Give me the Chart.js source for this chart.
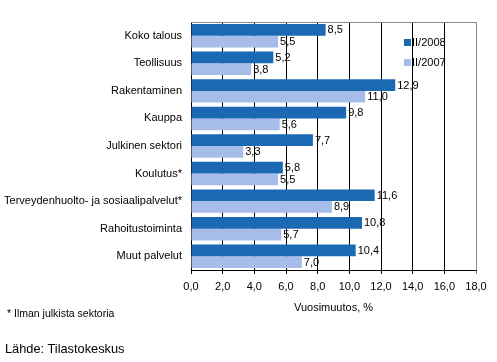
<!DOCTYPE html>
<html lang="fi">
<head>
<meta charset="utf-8">
<script src="https://cdn.jsdelivr.net/npm/chart.js@4/dist/chart.umd.min.js"></script>
<style>
  html, body { margin: 0; padding: 0; background: #fff; }
  #wrap { position: relative; width: 497px; height: 362px; font-family: "Liberation Sans", Arial, sans-serif; }
  #kaavio { position: absolute; left: 0; top: 0; }
  .huom { position: absolute; left: 7px; top: 307px; font-size: 10.5px; color: #000; }
  .lahde { position: absolute; left: 5px; top: 341px; font-size: 12.8px; color: #000; }
</style>
</head>
<body>
<div id="wrap">
  <canvas id="kaavio" width="497" height="362"></canvas>
  <div class="huom">* Ilman julkista sektoria</div>
  <div class="lahde">Lähde: Tilastokeskus</div>
</div>
<script>
// Toimialat ja vuosimuutokset (%), luettu kuvasta
const TOIMIALAT = [
  'Koko talous',
  'Teollisuus',
  'Rakentaminen',
  'Kauppa',
  'Julkinen sektori',
  'Koulutus*',
  'Terveydenhuolto- ja sosiaalipalvelut*',
  'Rahoitustoiminta',
  'Muut palvelut'
];
const ARVOT_2008 = [8.5, 5.2, 12.9, 9.8, 7.7, 5.8, 11.6, 10.8, 10.4];
const ARVOT_2007 = [5.5, 3.8, 11.0, 5.6, 3.3, 5.5, 8.9, 5.7, 7.0];
const SARJAT = ['II/2008', 'II/2007'];
const X_MIN = 0, X_MAX = 18, X_ASKEL = 2;
const AKSELIN_OTSIKKO = 'Vuosimuutos, %';

const FONTTI = '"Liberation Sans", Arial, sans-serif';
const TUMMA = '#1b69b3';
const VAALEA = '#a6bdea';

const pilkku = v => Number(v).toFixed(1).replace('.', ',');

// Arvot palkkien perään
const arvoLabelit = {
  id: 'arvoLabelit',
  afterDatasetsDraw(chart) {
    const ctx = chart.ctx;
    ctx.save();
    ctx.font = '11px ' + FONTTI;
    ctx.fillStyle = '#000';
    ctx.textBaseline = 'middle';
    ctx.textAlign = 'left';
    chart.data.datasets.forEach((ds, i) => {
      chart.getDatasetMeta(i).data.forEach((el, j) => {
        ctx.fillText(pilkku(ds.data[j]), el.x + 2, el.y + 0.5);
      });
    });
    ctx.restore();
  }
};

// Yläreuna, akselin otsikko ja selite
const kehys = {
  id: 'kehys',
  afterDraw(chart) {
    const { ctx, chartArea: a } = chart;
    ctx.save();
    ctx.strokeStyle = '#8c8c8c';
    ctx.lineWidth = 1;
    ctx.beginPath();
    ctx.moveTo(a.left, a.top + 0.5);
    ctx.lineTo(a.right + 0.5, a.top + 0.5);
    ctx.stroke();

    ctx.fillStyle = '#000';
    ctx.font = '11px ' + FONTTI;
    ctx.textAlign = 'center';
    ctx.textBaseline = 'middle';
    ctx.fillText(AKSELIN_OTSIKKO, (a.left + a.right) / 2, a.bottom + 38);

    // selite
    ctx.textAlign = 'left';
    chart.data.datasets.forEach((ds, i) => {
      const y = 42 + i * 20;
      ctx.fillStyle = ds.backgroundColor;
      ctx.fillRect(404, y - 3, 7, 7);
      ctx.fillStyle = '#000';
      ctx.fillText(ds.label, 412, y + 1);
    });
    ctx.restore();
  }
};

new Chart(document.getElementById('kaavio'), {
  type: 'bar',
  data: {
    labels: TOIMIALAT,
    datasets: [
      { label: SARJAT[0], data: ARVOT_2008, backgroundColor: TUMMA },
      { label: SARJAT[1], data: ARVOT_2007, backgroundColor: VAALEA }
    ]
  },
  options: {
    indexAxis: 'y',
    responsive: false,
    animation: false,
    devicePixelRatio: 1,
    layout: { padding: { top: 22, right: 21, left: 0, bottom: 0 } },
    datasets: { bar: { categoryPercentage: 0.85, barPercentage: 1.0 } },
    plugins: { legend: { display: false }, tooltip: { enabled: false } },
    scales: {
      x: {
        min: X_MIN, max: X_MAX,
        ticks: {
          stepSize: X_ASKEL, padding: 6, color: '#000',
          font: { family: FONTTI, size: 11 },
          callback: v => pilkku(v)
        },
        grid: {
          color: c => (c.tick && c.tick.value === X_MAX) ? '#8c8c8c' : '#000',
          tickLength: 4,
          lineWidth: 1
        },
        border: { color: '#000' },
        afterFit: s => { s.height = 92; }
      },
      y: {
        ticks: { color: '#000', padding: 9, font: { family: FONTTI, size: 11 } },
        grid: { display: false, drawTicks: false },
        border: { color: '#000' },
        afterFit: s => { s.width = 191; }
      }
    }
  },
  plugins: [arvoLabelit, kehys]
});
</script>
</body>
</html>
